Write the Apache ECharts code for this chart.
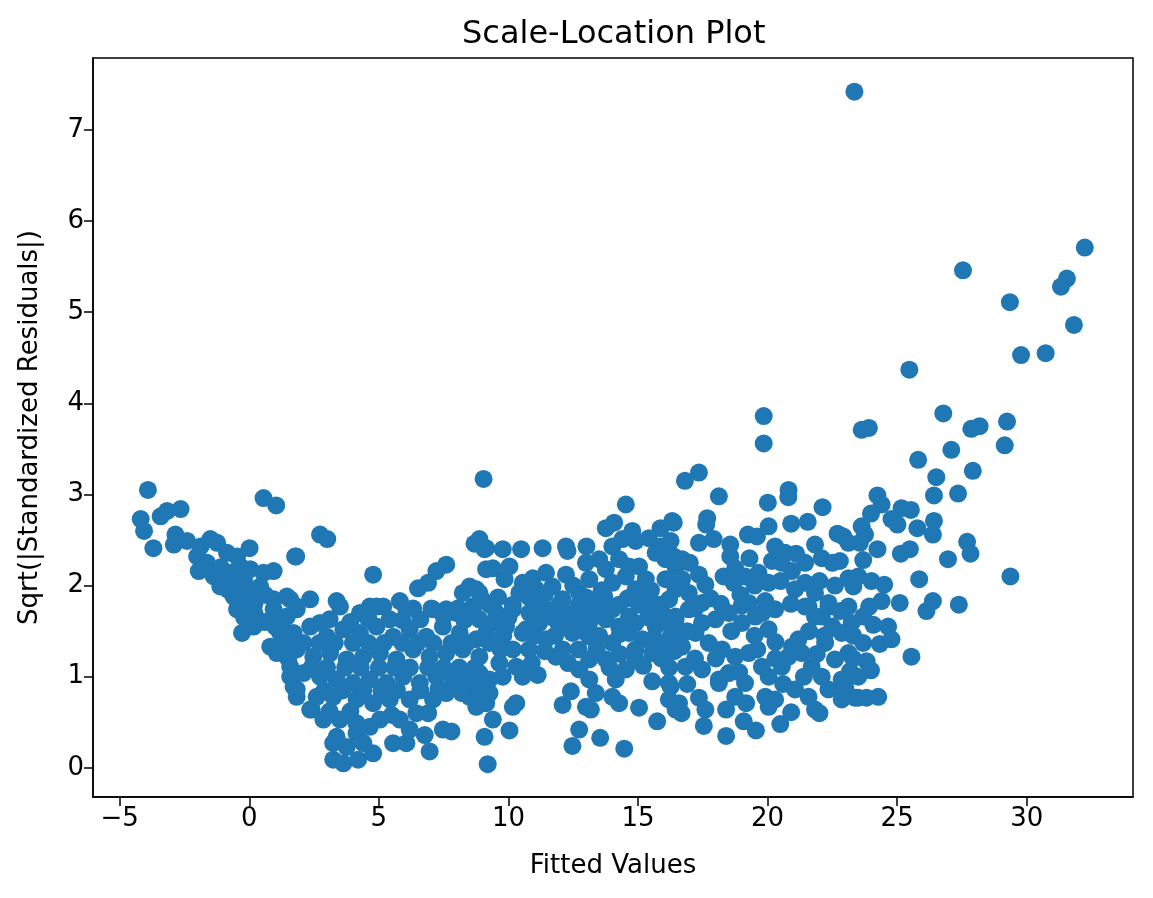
<!DOCTYPE html>
<html>
<head>
<meta charset="utf-8">
<script src="https://cdn.jsdelivr.net/npm/echarts@6/dist/echarts.min.js"></script>
<style>html,body{margin:0;padding:0;background:#fff}#chart{width:1153px;height:898px}</style>
</head>
<body>
<div id="chart"></div>
<script>
const xTicks = [-5, 0, 5, 10, 15, 20, 25, 30];
const yTicks = [0, 1, 2, 3, 4, 5, 6, 7];

const leftArm = [[-4.19,2.73],[-4.06,2.60],[-3.91,3.05],[-3.70,2.41],[-3.42,2.76],[-3.17,2.82],[-2.85,2.56],[-2.91,2.45],[-2.65,2.84],[-2.40,2.49],[-1.88,2.43],[-1.50,2.51],[-1.24,2.47],[-2.01,2.32],[-1.63,2.25],[-1.95,2.16],[-0.86,2.36],[-0.47,2.32],[0.01,2.41],[-1.37,2.10],[-0.73,2.03],[-0.35,2.21],[0.04,2.18],[0.55,2.14],[0.94,2.16],[0.55,2.96],[1.04,2.88],[1.77,2.32],[-0.60,1.88],[0.04,1.92],[0.42,1.99],[-0.35,1.79],[0.94,1.85],[1.45,1.88],[-1.12,1.99],[-0.47,1.74],[-0.28,1.48],[0.30,1.63],[0.94,1.74],[1.45,1.66],[1.83,1.77],[0.81,1.33],[1.06,1.26],[1.58,1.00],[1.83,0.78],[1.71,0.89],[1.19,1.48],[1.58,1.44],[0.17,1.55],[-1.1,2.2],[-0.9,2.05],[-0.6,2.15],[-0.2,2.05],[-0.1,1.85],[0.2,1.8],[0.6,1.9],[-0.8,1.95],[-0.5,1.95],[-0.2,1.65],[0.2,1.7],[0.6,1.6],[1.2,1.65],[1.0,1.55],[1.35,1.35],[1.5,1.2],[1.3,1.5]];

const valleyTop = [[2.73,2.56],[3.01,2.51],[1.81,2.32],[4.78,2.12],[8.69,2.46],[9.08,2.40],[7.60,2.23],[7.22,2.16],[6.90,2.03],[6.51,1.97],[8.50,1.99],[8.76,1.96],[8.24,1.92],[8.95,1.86],[9.14,2.18],[2.35,1.85],[3.37,1.83],[1.58,1.85],[4.65,1.77],[5.17,1.77],[5.81,1.83],[6.32,1.75],[7.03,1.75],[7.60,1.74],[8.05,1.75],[8.63,1.77]];

const valleyLow = [[3.24,0.09],[3.63,0.05],[4.20,0.09],[6.96,0.18],[7.80,0.40],[5.55,0.27],[6.06,0.27],[6.77,0.36],[3.24,0.27],[3.76,0.23],[4.40,0.27],[4.78,0.16],[3.37,0.34],[4.14,0.38],[2.35,0.64],[2.86,0.53],[3.50,0.53],[4.14,0.49],[4.65,0.45],[5.04,0.53],[5.81,0.53],[6.19,0.42],[6.45,0.60],[7.47,0.42],[9.01,0.75],[8.76,0.67],[8.50,0.78],[7.09,0.75],[7.60,0.82],[7.99,0.93],[1.83,0.86],[2.60,0.78],[3.24,0.78],[4.14,0.75],[4.78,0.71],[5.42,0.75],[6.19,0.75],[1.58,1.11],[2.09,1.04],[2.73,1.00],[3.37,0.97],[4.01,0.93],[4.65,0.97],[5.30,0.93],[5.94,1.00],[6.58,0.93],[7.22,1.00],[7.86,0.97],[8.50,0.97],[1.83,1.30],[2.47,1.22],[3.12,1.26],[3.76,1.19],[4.40,1.22],[5.04,1.26],[5.68,1.19],[6.32,1.30],[6.96,1.22],[7.60,1.26],[8.24,1.30],[8.88,1.22],[1.71,1.48],[2.35,1.55],[2.99,1.44],[3.63,1.52],[4.27,1.48],[4.91,1.55],[5.55,1.44],[6.19,1.52],[6.83,1.44],[7.47,1.55],[8.12,1.48],[8.76,1.41],[1.83,1.74],[2.73,1.59],[3.50,1.77],[4.27,1.70],[4.91,1.77],[5.42,1.63],[6.06,1.74],[7.09,1.74],[7.99,1.70],[8.63,1.74],[2.41,0.64]];

const valleyFill = [[2.1,1.37],[2.7,1.37],[3.3,1.37],[4.0,1.37],[4.6,1.37],[5.2,1.37],[5.9,1.37],[6.5,1.37],[7.1,1.37],[7.8,1.37],[8.4,1.37],[2.4,1.1],[3.0,1.1],[3.7,1.1],[4.3,1.1],[5.0,1.1],[5.6,1.1],[6.2,1.1],[6.9,1.1],[7.5,1.1],[8.1,1.1],[8.7,1.1],[2.9,0.85],[3.6,0.85],[4.4,0.85],[5.1,0.85],[5.7,0.85],[6.6,0.85],[7.3,0.87],[8.2,0.82],[3.1,0.62],[3.9,0.62],[5.5,0.58],[6.9,0.6],[3.1,1.63],[3.9,1.6],[4.6,1.63],[5.9,1.62],[6.6,1.63],[7.5,1.66],[8.3,1.62]];

const middleTop = [[9.04,3.17],[14.53,2.89],[13.76,2.63],[14.08,2.69],[14.78,2.60],[15.87,2.63],[16.32,2.71],[8.88,2.51],[9.14,2.41],[9.78,2.40],[10.49,2.40],[11.32,2.41],[12.22,2.43],[12.28,2.38],[13.01,2.43],[14.01,2.43],[14.40,2.51],[14.91,2.49],[15.42,2.52],[15.87,2.43],[16.26,2.49],[9.40,2.19],[10.04,2.21],[9.85,2.07],[10.55,2.03],[10.94,2.08],[11.45,2.14],[12.22,2.12],[12.99,2.25],[13.50,2.29],[13.76,2.18],[14.27,2.29],[14.65,2.21],[15.04,2.21],[15.68,2.36],[16.06,2.29],[16.45,2.21],[8.88,1.92],[10.42,1.92],[11.07,1.96],[11.70,1.99],[12.09,1.85],[12.73,1.92],[13.12,2.07],[14.01,2.03],[14.53,2.10],[14.91,1.96],[15.30,2.07],[16.06,2.07],[16.45,1.96],[9.27,1.79],[10.17,1.79],[11.19,1.79],[11.96,1.79],[12.73,1.79],[13.37,1.79],[14.27,1.79],[15.04,1.79],[15.81,1.79]];

const middleLow = [[9.20,0.04],[10.04,0.41],[9.08,0.34],[9.40,0.53],[10.17,0.67],[10.30,0.71],[9.14,0.71],[8.88,0.78],[12.47,0.24],[12.73,0.42],[13.54,0.33],[14.47,0.21],[12.09,0.69],[12.41,0.84],[12.99,0.67],[13.18,0.64],[14.27,0.71],[15.04,0.66],[15.74,0.51],[15.55,0.95],[16.19,0.75],[16.45,0.64],[16.26,0.89],[8.88,1.04],[9.27,0.97],[9.78,1.00],[10.55,1.00],[11.13,1.02],[9.65,1.15],[10.30,1.11],[11.83,1.22],[12.73,1.08],[13.12,1.19],[13.76,1.19],[14.14,0.97],[14.53,1.08],[14.91,1.19],[13.37,0.82],[14.01,0.78],[13.12,0.97],[8.88,0.89],[9.27,0.82],[15.55,1.26],[16.06,1.37],[16.58,1.48],[9.14,1.48],[9.27,1.37],[10.17,1.30],[10.55,1.48],[11.45,1.41],[12.47,1.48],[13.12,1.44],[14.01,1.37],[14.65,1.48],[15.17,1.41],[9.53,1.70],[10.17,1.74],[10.81,1.70],[11.45,1.74],[12.22,1.70],[12.73,1.77],[13.37,1.70],[14.01,1.74],[14.65,1.66],[15.30,1.77],[15.94,1.70],[16.45,1.63],[8.88,1.63],[9.40,1.59],[9.91,1.55],[10.68,1.52],[11.19,1.59],[11.96,1.55],[12.47,1.63],[13.12,1.59],[13.76,1.63],[14.27,1.55],[14.91,1.59],[15.68,1.55],[16.19,1.59]];

const middleFill = [[9.6,1.87],[10.8,1.87],[11.4,1.9],[13.0,1.87],[13.7,1.88],[14.6,1.86],[15.4,1.88],[16.2,1.85],[9.8,1.45],[11.0,1.45],[11.8,1.45],[12.9,1.5],[13.5,1.45],[14.3,1.47],[15.6,1.42],[16.3,1.47],[9.7,1.3],[10.8,1.3],[11.4,1.28],[12.1,1.3],[12.7,1.3],[13.4,1.3],[14.3,1.25],[14.9,1.3],[15.9,1.2],[16.4,1.28],[10.9,1.15],[12.3,1.15],[13.9,1.1],[15.2,1.12],[16.2,1.1],[12.5,2.0],[13.6,1.95],[15.5,1.95],[10.0,1.65],[11.7,1.65],[12.9,1.7],[15.4,1.65]];

const rightTop = [[19.85,3.86],[19.85,3.56],[16.81,3.15],[17.35,3.24],[18.12,2.98],[20.01,2.91],[20.81,3.05],[20.80,2.97],[22.12,2.86],[16.38,2.69],[17.67,2.74],[17.63,2.67],[20.04,2.65],[20.91,2.68],[21.55,2.70],[22.70,2.57],[17.35,2.47],[17.92,2.51],[18.56,2.45],[19.24,2.56],[19.59,2.54],[20.29,2.43],[20.68,2.36],[21.83,2.45],[22.92,2.54],[23.12,2.47],[16.38,2.32],[16.70,2.29],[18.56,2.32],[20.17,2.27],[20.55,2.25],[21.45,2.25],[22.09,2.30],[22.79,2.27],[17.35,2.12],[18.75,2.19],[19.13,2.10],[19.65,2.14],[20.94,2.16],[21.45,2.03],[21.83,1.92],[23.12,2.08],[23.31,1.99],[18.69,2.03],[18.95,1.90],[20.04,2.03],[21.06,1.96],[17.60,2.01],[17.80,1.86],[16.45,2.21],[16.70,2.07],[16.96,1.92],[19.91,1.83],[19.27,1.81],[22.35,1.81],[17.47,1.81]];

const rightLow = [[16.68,0.60],[17.54,0.46],[18.40,0.64],[18.40,0.35],[19.17,0.71],[19.08,0.51],[19.55,0.41],[20.04,0.67],[20.49,0.48],[20.91,0.61],[22.00,0.60],[16.19,0.93],[16.58,0.71],[17.60,0.64],[17.35,0.77],[18.12,0.93],[18.75,0.78],[19.91,0.78],[20.29,0.75],[21.06,0.86],[21.58,0.78],[22.35,0.86],[22.86,0.75],[23.37,0.77],[21.83,0.64],[22.22,1.37],[23.12,1.26],[21.70,1.11],[22.09,1.00],[22.86,0.97],[23.18,1.06],[23.24,1.59],[22.09,1.66],[22.35,1.77],[21.58,1.77],[23.12,1.77],[20.94,1.33],[21.32,1.26],[20.55,1.11],[20.04,1.00],[16.83,1.11],[17.47,1.08],[18.12,0.97],[18.50,1.04],[19.13,0.93],[16.19,1.41],[16.70,1.33],[17.22,1.48],[17.73,1.37],[18.24,1.30],[18.75,1.22],[19.27,1.26],[19.78,1.11],[17.99,1.63],[18.50,1.70],[19.01,1.59],[19.53,1.66],[20.04,1.52],[20.29,1.74],[16.45,1.66],[16.96,1.74],[17.47,1.59],[21.45,1.77],[21.83,1.66],[20.81,1.22],[21.19,1.41],[22.60,1.19],[22.86,1.48],[22.20,1.45]];

const rightFill = [[16.9,1.5],[18.6,1.5],[19.5,1.45],[20.3,1.38],[21.6,1.5],[22.5,1.55],[23.3,1.45],[17.2,1.75],[18.2,1.8],[19.0,1.78],[19.8,1.7],[20.9,1.8],[22.8,1.72],[19.5,2.0],[20.5,2.05],[22.0,2.05],[22.6,2.0],[17.2,1.2],[18.0,1.2],[19.6,1.3],[20.3,1.2],[21.9,1.25],[23.3,1.2],[16.9,0.92],[18.9,1.05],[20.6,0.92],[21.4,1.0],[23.0,0.88],[17.0,2.25],[19.3,2.3],[21.1,2.35],[18.3,2.1],[22.5,2.25]];

const farRight = [[23.35,7.42],[32.24,5.71],[27.54,5.46],[31.55,5.37],[31.32,5.28],[29.35,5.11],[31.82,4.86],[29.78,4.53],[30.73,4.55],[25.47,4.37],[26.78,3.89],[29.24,3.80],[28.18,3.75],[27.86,3.72],[23.91,3.73],[23.63,3.71],[29.15,3.54],[27.09,3.49],[25.81,3.38],[27.92,3.26],[26.51,3.19],[26.42,2.99],[27.35,3.01],[24.24,2.99],[24.40,2.89],[23.99,2.79],[25.17,2.85],[25.53,2.83],[26.42,2.71],[24.78,2.73],[25.01,2.67],[25.78,2.63],[26.38,2.56],[23.63,2.65],[23.76,2.56],[23.56,2.47],[27.70,2.48],[27.83,2.35],[24.24,2.40],[25.14,2.35],[25.49,2.40],[26.96,2.29],[23.69,2.28],[29.37,2.10],[25.85,2.07],[24.01,2.05],[24.50,2.01],[23.50,2.10],[24.40,1.83],[25.10,1.81],[26.38,1.83],[27.38,1.79],[23.92,1.77],[26.13,1.72],[23.69,1.66],[24.08,1.57],[24.65,1.55],[23.69,1.37],[24.33,1.36],[24.78,1.41],[25.55,1.22],[23.82,1.17],[23.99,1.07],[23.50,1.00],[23.50,0.77],[23.82,0.77],[24.27,0.78]];

const points = [].concat(leftArm, valleyTop, valleyLow, valleyFill, middleTop, middleLow, middleFill, rightTop, rightLow, rightFill, farRight);

const FONT = 'DejaVu Sans';
const minus = v => String(v).replace('-', '\u2212');

const chart = echarts.init(document.getElementById('chart'), null, {renderer: 'canvas'});
chart.setOption({
  animation: false,
  backgroundColor: '#fff',
  title: {
    text: 'Scale-Location Plot', left: 457, top: 14,
    textStyle: {fontFamily: FONT, fontSize: 32, fontWeight: 'normal', color: '#000'}
  },
  grid: {left: 93, right: 20, top: 58, bottom: 101, show: true, borderColor: '#000', borderWidth: 1.5, backgroundColor: 'transparent'},
  xAxis: {
    type: 'value', min: -6.03, max: 34.1,
    name: 'Fitted Values', nameLocation: 'middle', nameGap: 56,
    nameTextStyle: {fontFamily: FONT, fontSize: 26, color: '#000'},
    axisLine: {show: true, onZero: false, lineStyle: {color: '#000', width: 1.5}},
    axisTick: {show: true, customValues: xTicks, length: 9, lineStyle: {color: '#000', width: 1.5}},
    axisLabel: {customValues: xTicks, formatter: minus, color: '#000', fontFamily: FONT, fontSize: 26, margin: 9},
    splitLine: {show: false}
  },
  yAxis: {
    type: 'value', min: -0.32, max: 7.79,
    name: 'Sqrt(|Standardized Residuals|)', nameLocation: 'middle', nameGap: 50,
    nameTextStyle: {fontFamily: FONT, fontSize: 26, color: '#000'},
    axisLine: {show: true, onZero: false, lineStyle: {color: '#000', width: 1.5}},
    axisTick: {show: true, customValues: yTicks, length: 9, lineStyle: {color: '#000', width: 1.5}},
    axisLabel: {customValues: yTicks, formatter: minus, color: '#000', fontFamily: FONT, fontSize: 26, margin: 9},
    splitLine: {show: false}
  },
  series: [{
    type: 'scatter', data: points, symbol: 'circle', symbolSize: 18,
    itemStyle: {color: '#1f77b4', opacity: 1}
  }]
});
</script>
</body>
</html>
